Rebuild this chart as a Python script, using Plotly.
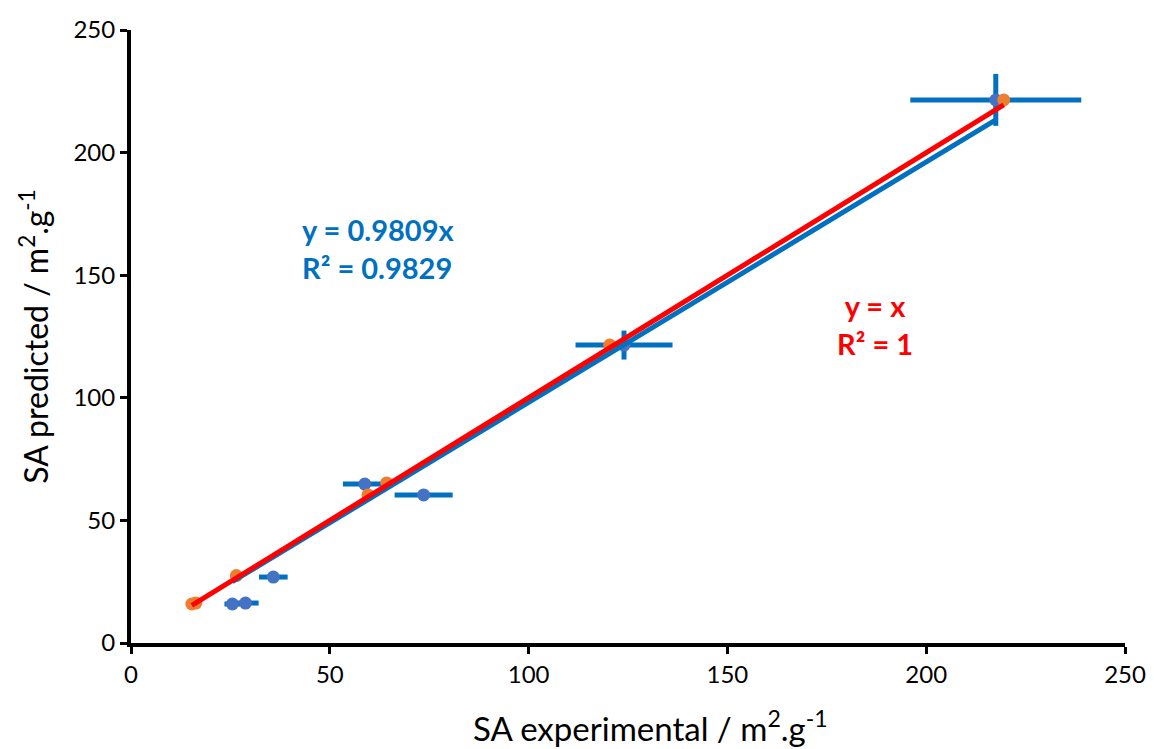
import plotly.graph_objects as go

# measured points (blue) with error bars
sa_exp = [25.5, 28.8, 35.8, 58.8, 73.6, 124.0, 217.5]
sa_pred = [15.9, 16.3, 26.9, 64.8, 60.4, 121.5, 221.5]
err_x = [2.0, 3.3, 3.6, 5.5, 7.3, 12.2, 21.5]
err_y = [0.0, 0.0, 0.0, 0.0, 2.0, 5.9, 10.6]

# ideal points (orange), on y = x
ideal_x = [15.3, 16.3, 26.5, 59.6, 64.3, 120.4, 219.5]
ideal_y = [15.9, 16.3, 27.5, 60.4, 65.3, 121.5, 221.5]

fit_slope = 0.9809

blue = '#0070C0'
font_family = 'Lato, "Open Sans", sans-serif'

fig = go.Figure()

fig.add_trace(go.Scatter(
    x=sa_exp, y=sa_pred, mode='markers',
    marker=dict(color='#4472C4', size=13),
    error_x=dict(type='data', array=err_x, color=blue, thickness=5, width=0),
    error_y=dict(type='data', array=err_y, color=blue, thickness=5, width=0),
    showlegend=False,
))
fig.add_trace(go.Scatter(
    x=ideal_x, y=ideal_y, mode='markers',
    marker=dict(color='#ED7D31', size=13),
    showlegend=False,
))

# trendlines over the x range of each series
bx = [min(sa_exp), max(sa_exp)]
fig.add_trace(go.Scatter(x=bx, y=[fit_slope * v for v in bx], mode='lines',
                         line=dict(color=blue, width=5), showlegend=False))
rx = [min(ideal_x), max(ideal_x)]
fig.add_trace(go.Scatter(x=rx, y=rx, mode='lines',
                         line=dict(color='#FF0000', width=5), showlegend=False))

fig.add_annotation(x=62, y=161, xref='x', yref='y', showarrow=False, align='left',
                   text='<b>y = 0.9809x<br>R² = 0.9829</b>',
                   font=dict(color=blue, size=29, family=font_family))
fig.add_annotation(x=187, y=130, xref='x', yref='y', showarrow=False, align='center',
                   text='<b>y = x<br>R² = 1</b>',
                   font=dict(color='#FF0000', size=29, family=font_family))

# x title sits a little right of the axis centre, as in the original
fig.add_annotation(x=0.523, y=-0.135, xref='paper', yref='paper', showarrow=False,
                   yanchor='middle', text='SA experimental / m<sup>2</sup>.g<sup>-1</sup>',
                   font=dict(size=33, color='black', family=font_family))

axis_style = dict(
    showgrid=False, zeroline=False, showline=True, linecolor='black', linewidth=4,
    ticks='outside', ticklen=7, tickwidth=3, tickcolor='black',
    range=[0, 250], dtick=50, automargin=False, ticklabeloverflow='allow',
    tickfont=dict(size=24, color='black', family=font_family),
)

fig.update_xaxes(**axis_style)
fig.update_yaxes(**axis_style,
                 title=dict(text='SA predicted / m<sup>2</sup>.g<sup>-1</sup>',
                            font=dict(size=32, color='black', family=font_family), standoff=16))

# page has an 8px body margin, so the figure is sized to the visible area
fig.update_layout(
    width=1138, height=741,
    margin=dict(l=123, r=21, t=22, b=106),
    plot_bgcolor='white', paper_bgcolor='white',
)

fig.write_html("out.html")
